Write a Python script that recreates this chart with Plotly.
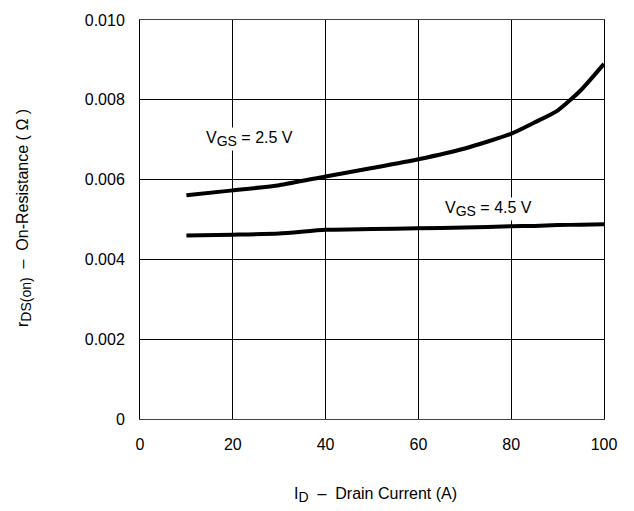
import plotly.graph_objects as go

id_a = [10, 20, 30, 40, 50, 60, 70, 80, 85, 90, 95, 100]
r_25 = [0.00561, 0.00573, 0.00586, 0.00608, 0.00629, 0.00651, 0.00678, 0.00715, 0.00743, 0.00773, 0.00824, 0.00890]
r_45 = [0.00460, 0.00462, 0.00465, 0.00474, 0.00476, 0.00478, 0.00480, 0.00483, 0.00484, 0.00486, 0.00487, 0.00488]

x_ticks = [0, 20, 40, 60, 80, 100]
y_ticks = [0, 0.002, 0.004, 0.006, 0.008, 0.010]
y_tick_text = ["0", "0.002", "0.004", "0.006", "0.008", "0.010"]

font = "Liberation Sans, Arial, sans-serif"
FS = 16

def sub(t):
    return '<sub><span style="font-size:14px">' + t + '</span></sub>'

fig = go.Figure()
fig.add_trace(go.Scatter(x=id_a, y=r_25, mode="lines", line=dict(color="black", width=4, shape="spline", smoothing=0.6)))
fig.add_trace(go.Scatter(x=id_a, y=r_45, mode="lines", line=dict(color="black", width=4, shape="spline", smoothing=0.6)))

fig.update_layout(
    width=634, height=511,
    margin=dict(l=140, r=30, t=12, b=92),
    plot_bgcolor="white", paper_bgcolor="white",
    showlegend=False,
    font=dict(family=font, size=FS, color="black"),
)
fig.update_xaxes(range=[0, 100], tickvals=x_ticks, showgrid=True, gridcolor="black", gridwidth=1,
                 showline=True, linecolor="#444", linewidth=1, mirror=True, zeroline=False,
                 ticks="", ticklabelstandoff=11, tickfont=dict(size=FS))
fig.update_yaxes(range=[0, 0.010], tickvals=y_ticks, ticktext=y_tick_text, showgrid=True, gridcolor="black", gridwidth=1,
                 showline=True, linecolor="black", linewidth=1, mirror=True, zeroline=False,
                 ticks="", ticklabelstandoff=11, tickfont=dict(size=FS))

fig.add_annotation(x=23.5, y=0.00702, xref="x", yref="y", text="V" + sub("GS") + " = 2.5 V", showarrow=False,
                   font=dict(size=FS), bgcolor="white")
fig.add_annotation(x=75, y=0.00526, xref="x", yref="y", text="V" + sub("GS") + " = 4.5 V", showarrow=False,
                   font=dict(size=FS), bgcolor="white")
fig.add_annotation(x=(375 - 140) / 464, y=-(497 - 419) / 407, xref="paper", yref="paper",
                   text="I" + sub("D") + "  –  Drain Current (A)",
                   showarrow=False, font=dict(size=FS), xanchor="center", yanchor="middle")
fig.add_annotation(x=-(140 - 24) / 464, y=(419 - 214) / 407, xref="paper", yref="paper",
                   text="r" + sub("DS(on)") + "  –  On-Resistance ( Ω )", textangle=-90,
                   showarrow=False, font=dict(size=FS), xanchor="center", yanchor="middle")

fig.write_html("out.html")
